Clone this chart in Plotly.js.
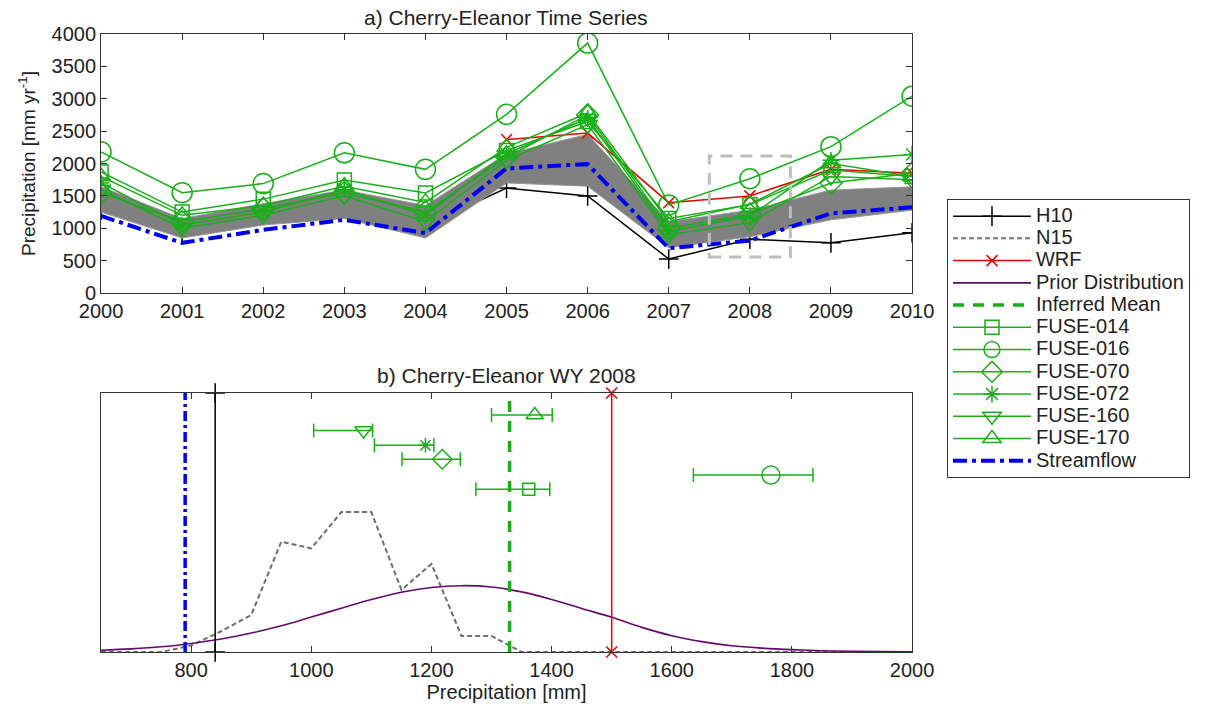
<!DOCTYPE html>
<html>
<head>
<meta charset="utf-8">
<script src="https://cdn.plot.ly/plotly-3.0.1.min.js"></script>
<style>html,body{margin:0;padding:0;background:#fff;}#chart{width:1213px;height:710px;}</style>
</head>
<body>
<div id="chart"></div>
<script>
// ---- Panel a) time series data ----
const years = [2000, 2001, 2002, 2003, 2004, 2005, 2006, 2007, 2008, 2009, 2010];
const h10 = [1280, 910, 1200, 1390, 1040, 1620, 1500, 525, 830, 775, 930];
const n15Low = [1250, 850, 1050, 1150, 850, 1700, 1650, 700, 870, 1130, 1280];
const n15High = [1640, 1150, 1380, 1590, 1350, 2150, 2450, 1100, 1280, 1590, 1640];
const wrf = [null, null, null, null, null, 2370, 2470, 1395, 1500, 1910, 1850];
const streamflow = [1190, 775, 975, 1130, 925, 1925, 1990, 690, 810, 1230, 1325];
const fuse014 = [1870, 1250, 1450, 1745, 1545, 2200, 2650, 1150, 1365, 1900, 1800];
const fuse016 = [2180, 1550, 1690, 2165, 1910, 2760, 3860, 1360, 1765, 2260, 3040];
const fuse070 = [1550, 1100, 1300, 1550, 1250, 2100, 2750, 1000, 1218, 1700, 1850];
const fuse072 = [1700, 1050, 1250, 1600, 1200, 2150, 2700, 950, 1190, 2050, 2140];
const fuse160 = [1600, 1000, 1200, 1500, 1100, 2050, 2600, 900, 1087, 1800, 1750];
const fuse170 = [1800, 1200, 1350, 1650, 1400, 2250, 2780, 1100, 1372, 2000, 1800];

// ---- Panel b) WY 2008 data ----
const n15HistX = [650, 750, 800, 850, 900, 950, 1000, 1050, 1100, 1150, 1200, 1250, 1300, 1350, 2000];
const n15HistY = [0, 0, 0.025, 0.08, 0.143, 0.426, 0.40, 0.54, 0.54, 0.24, 0.34, 0.062, 0.062, 0, 0];
const priorX = [650, 700, 750, 800, 850, 900, 950, 1000, 1050, 1100, 1150, 1200, 1250, 1300, 1350, 1400, 1450, 1500, 1550, 1600, 1650, 1700, 1750, 1800, 1850, 1900, 1950, 2000];
const priorY = [0.007, 0.012, 0.02, 0.033, 0.05, 0.073, 0.101, 0.135, 0.169, 0.203, 0.231, 0.249, 0.256, 0.251, 0.232, 0.203, 0.168, 0.134, 0.095, 0.063, 0.04, 0.024, 0.015, 0.009, 0.005, 0.003, 0.0015, 0.0008];
const h10WY2008 = 840;
const wrfWY2008 = 1500;
const streamWY2008 = 790;
const inferredMean = 1330;
const fuseNames = ['FUSE-014', 'FUSE-016', 'FUSE-070', 'FUSE-072', 'FUSE-160', 'FUSE-170'];
const fuseCenter = [1362, 1765, 1218, 1190, 1087, 1372];
const fuseLow = [1274, 1636, 1151, 1105, 1004, 1300];
const fuseHigh = [1397, 1835, 1248, 1204, 1102, 1401];
const fuseRow = [0.628, 0.683, 0.744, 0.798, 0.855, 0.915];

// ---- styles ----
const GREEN = 'rgb(25,175,25)';
const GRAY = 'rgb(128,128,128)';
const PURPLE = 'rgb(100,10,110)';
const BLUE = 'rgb(0,0,240)';
const RED = 'rgb(235,0,0)';
const fuseSymbols = ['square-open', 'circle-open', 'diamond-open', 'asterisk-open', 'triangle-down-open', 'triangle-up-open'];
const fuseSizes = [14, 20, 17, 14, 17, 17];
const fuseSeries = [fuse014, fuse016, fuse070, fuse072, fuse160, fuse170];
const LEG = s => '<span style="font-size:20px">' + s + '</span>';

const traces = [];

// top panel
traces.push({x: years, y: h10, xaxis: 'x', yaxis: 'y', mode: 'lines+markers', name: LEG('H10'), legendrank: 1,
  line: {color: 'black', width: 1.5},
  marker: {symbol: 'cross-thin-open', size: 14, color: 'black', line: {color: 'black', width: 1.5}}});
traces.push({x: years, y: n15Low, xaxis: 'x', yaxis: 'y', mode: 'lines', showlegend: false, hoverinfo: 'skip',
  line: {color: 'rgb(150,150,150)', width: 1}});
traces.push({x: years, y: n15High, xaxis: 'x', yaxis: 'y', mode: 'lines', showlegend: false, hoverinfo: 'skip',
  fill: 'tonexty', fillcolor: GRAY, line: {color: 'rgb(150,150,150)', width: 1}});
traces.push({x: years, y: wrf, xaxis: 'x', yaxis: 'y', mode: 'lines+markers', name: LEG('WRF'), legendrank: 3,
  line: {color: RED, width: 1.5},
  marker: {symbol: 'x-thin-open', size: 11, color: RED, line: {color: RED, width: 1.5}}});
for (let i = 0; i < 6; i++) {
  traces.push({x: years, y: fuseSeries[i], xaxis: 'x', yaxis: 'y', mode: 'lines+markers', name: LEG(fuseNames[i]), legendrank: 6 + i,
    line: {color: GREEN, width: 1.5},
    marker: {symbol: fuseSymbols[i], size: fuseSizes[i], color: GREEN, line: {color: GREEN, width: 1.5}}});
}
traces.push({x: years, y: streamflow, xaxis: 'x', yaxis: 'y', mode: 'lines', name: LEG('Streamflow'), legendrank: 12,
  line: {color: BLUE, width: 4, dash: '14px,5px,4px,5px'}});

// bottom panel
traces.push({x: n15HistX, y: n15HistY, xaxis: 'x2', yaxis: 'y2', mode: 'lines', name: LEG('N15'), legendrank: 2,
  line: {color: 'rgb(110,110,110)', width: 2, dash: '5px,3px'}});
traces.push({x: priorX, y: priorY, xaxis: 'x2', yaxis: 'y2', mode: 'lines', name: LEG('Prior Distribution'), legendrank: 4,
  line: {color: PURPLE, width: 1.6, shape: 'spline'}});
traces.push({x: [h10WY2008, h10WY2008], y: [0, 1], xaxis: 'x2', yaxis: 'y2', mode: 'lines+markers', showlegend: false, cliponaxis: false,
  line: {color: 'black', width: 1.5},
  marker: {symbol: 'cross-thin-open', size: 14, color: 'black', line: {color: 'black', width: 1.5}}});
traces.push({x: [streamWY2008, streamWY2008], y: [0, 1], xaxis: 'x2', yaxis: 'y2', mode: 'lines', showlegend: false,
  line: {color: BLUE, width: 3.5, dash: '10px,4px,3px,4px'}});
traces.push({x: [wrfWY2008, wrfWY2008], y: [0, 1], xaxis: 'x2', yaxis: 'y2', mode: 'lines+markers', showlegend: false, cliponaxis: false,
  line: {color: RED, width: 1.5},
  marker: {symbol: 'x-thin-open', size: 11, color: RED, line: {color: RED, width: 1.5}}});
traces.push({x: [inferredMean, inferredMean], y: [0, 1], xaxis: 'x2', yaxis: 'y2', mode: 'lines', name: LEG('Inferred Mean'), legendrank: 5,
  line: {color: GREEN, width: 3.5, dash: '11px,9px'}});
for (let i = 0; i < 6; i++) {
  traces.push({x: [fuseCenter[i]], y: [fuseRow[i]], xaxis: 'x2', yaxis: 'y2', mode: 'markers', showlegend: false,
    marker: {symbol: fuseSymbols[i], size: fuseSizes[i] - 2, color: GREEN, line: {color: GREEN, width: 1.5}},
    error_x: {type: 'data', symmetric: false, array: [fuseHigh[i] - fuseCenter[i]], arrayminus: [fuseCenter[i] - fuseLow[i]],
      color: GREEN, thickness: 1.5, width: 7}});
}

const FAM = 'Liberation Sans, Arial, sans-serif';
const FONT = {family: FAM, size: 20, color: '#222'};
const TFONT = {family: FAM, size: 21, color: '#222'};
const axisCommon = {showline: true, linecolor: '#333', linewidth: 1, mirror: 'ticks', ticks: 'inside', ticklen: 6,
  tickcolor: '#333', showgrid: false, zeroline: false, tickfont: FONT};

const layout = {
  width: 1213, height: 710,
  margin: {l: 0, r: 0, t: 0, b: 0},
  paper_bgcolor: 'white', plot_bgcolor: 'white',
  font: FONT,
  showlegend: true,
  xaxis: Object.assign({}, axisCommon, {domain: [0.0833, 0.7519], range: [2000, 2010], dtick: 1, anchor: 'y'}),
  yaxis: Object.assign({}, axisCommon, {domain: [0.5873, 0.9521], range: [0, 4000], dtick: 500, anchor: 'x',
    title: {text: 'Precipitation [mm yr<sup>-1</sup>]', font: {family: FAM, size: 19, color: '#222'}, standoff: 10}}),
  xaxis2: Object.assign({}, axisCommon, {domain: [0.0833, 0.7519], range: [650, 2000],
    tickvals: [800, 1000, 1200, 1400, 1600, 1800, 2000], anchor: 'y2',
    title: {text: 'Precipitation [mm]', font: FONT, standoff: 2}}),
  yaxis2: Object.assign({}, axisCommon, {domain: [0.0817, 0.4465], range: [0, 1], anchor: 'x2',
    ticks: '', showticklabels: false, mirror: true}),
  legend: {x: 0.7807, y: 0.7197, xanchor: 'left', yanchor: 'top', bgcolor: 'white',
    bordercolor: '#333', borderwidth: 1, font: {family: FAM, size: 14.8, color: '#222'},
    itemwidth: 78, tracegroupgap: 0, traceorder: 'normal'},
  shapes: [{type: 'rect', xref: 'x', yref: 'y', x0: 2007.5, x1: 2008.5, y0: 555, y1: 2115,
    line: {color: 'rgb(190,190,190)', width: 3, dash: '12px,8px'}}],
  annotations: [
    {text: 'a) Cherry-Eleanor Time Series', xref: 'paper', yref: 'paper', x: 0.4175, y: 0.976,
      xanchor: 'center', yanchor: 'middle', showarrow: false, font: TFONT},
    {text: 'b) Cherry-Eleanor WY 2008', xref: 'paper', yref: 'paper', x: 0.4175, y: 0.4718,
      xanchor: 'center', yanchor: 'middle', showarrow: false, font: TFONT}
  ]
};

Plotly.newPlot('chart', traces, layout, {displayModeBar: false, staticPlot: true});
</script>
</body>
</html>
